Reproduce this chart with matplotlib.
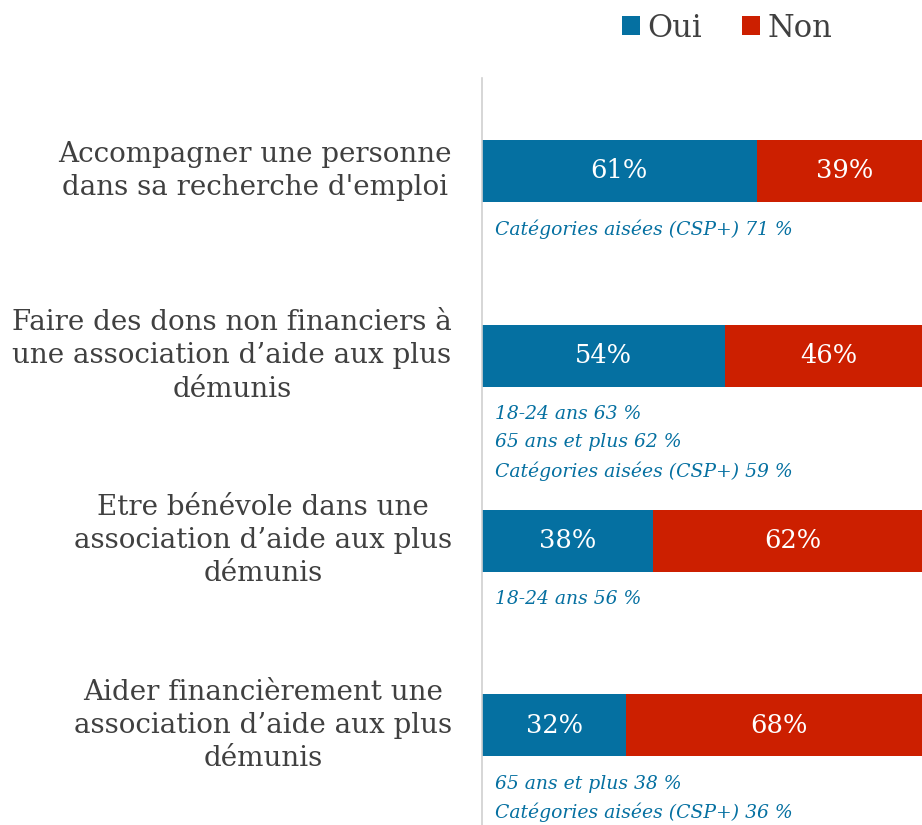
import matplotlib.pyplot as plt

# données
categories = [
    "Accompagner une personne\ndans sa recherche d'emploi",
    "Faire des dons non financiers à\nune association d\u2019aide aux plus\ndémunis",
    "Etre bénévole dans une\nassociation d\u2019aide aux plus\ndémunis",
    "Aider financièrement une\nassociation d\u2019aide aux plus\ndémunis",
]
oui = [61, 54, 38, 32]
non = [39, 46, 62, 68]
notes = [
    ["Catégories aisées (CSP+) 71 %"],
    ["18-24 ans 63 %", "65 ans et plus 62 %", "Catégories aisées (CSP+) 59 %"],
    ["18-24 ans 56 %"],
    ["65 ans et plus 38 %", "Catégories aisées (CSP+) 36 %"],
]

blue = '#0570a1'
red = '#cc1f00'
grey = '#404040'
plt.rcParams['font.family'] = ['DejaVu Serif']

W, H = 922, 825
fig = plt.figure(figsize=(W / 100, H / 100), dpi=100)
ax = fig.add_axes([482 / W, 0, 450 / W, (825 - 78) / H])

y = range(len(categories))
b1 = ax.barh(y, oui, height=0.335, color=blue, label='Oui')
b2 = ax.barh(y, non, left=oui, height=0.335, color=red, label='Non')
ax.set_xlim(0, 100)
ax.set_ylim(3.539, -0.503)

for i in y:
    ax.text(oui[i] / 2, i, f"{oui[i]}%", ha='center', va='center', color='white', fontsize=18.5)
    ax.text(oui[i] + non[i] / 2, i, f"{non[i]}%", ha='center', va='center', color='white', fontsize=18.5)
    ax.text(-6.7, i, categories[i], ha='right', va='center', multialignment='center',
            fontsize=20, color=grey, linespacing=1.3)
    for k, line in enumerate(notes[i]):
        ax.text(2.9, i + 0.315 + k * 0.154, line, ha='left', va='center', color=blue,
                fontsize=13.5, style='italic')

for s in ['top', 'right', 'bottom']:
    ax.spines[s].set_visible(False)
ax.spines['left'].set_color('#d0d0d0')
ax.spines['left'].set_linewidth(1.2)
ax.set_xticks([])
ax.set_yticks([])

fig.legend(handles=[b1, b2], loc='upper left', bbox_to_anchor=(594 / W, 1 + 15 / H), ncol=2,
           frameon=False, fontsize=22, handlelength=0.6, handleheight=0.6,
           handletextpad=0.25, columnspacing=1.3, labelcolor=grey)

fig.savefig('out.png', dpi=100)
